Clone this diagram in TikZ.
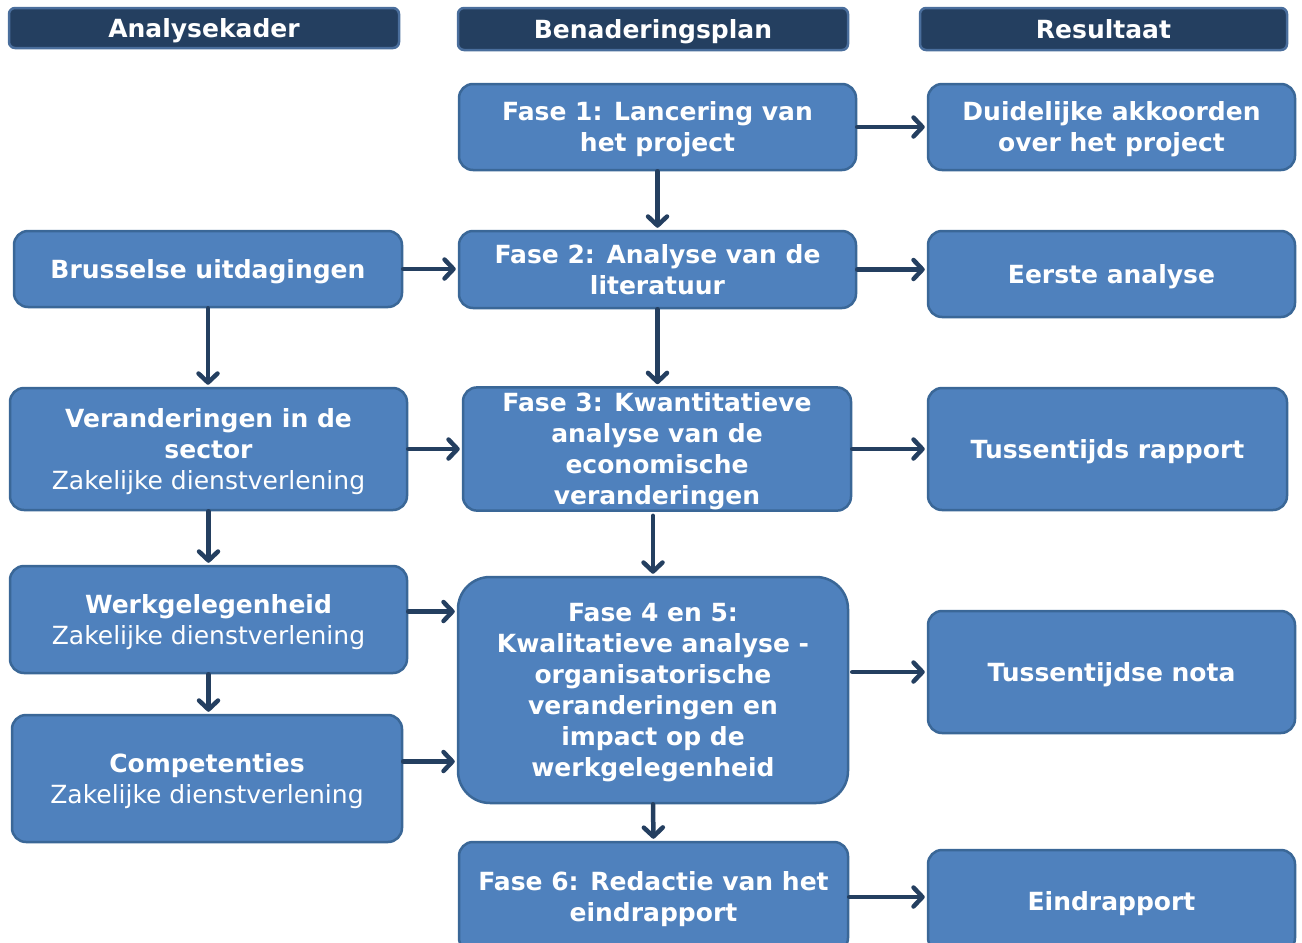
\documentclass[tikz,border=0pt]{standalone}
\usepackage{fontspec}
\setmainfont{DejaVu Sans}
\usetikzlibrary{arrows.meta,calc}
\definecolor{boxfill}{HTML}{4F81BD}
\definecolor{boxline}{HTML}{3A6797}
\definecolor{hdrfill}{HTML}{243F60}
\definecolor{hdrline}{HTML}{4A6E9C}
\definecolor{arr}{HTML}{243F60}
\newcommand{\mystrut}{\rule[-6pt]{0pt}{30.2pt}}
\newcommand{\sub}[1]{{\mdseries #1}}
\tikzset{
  box/.style={draw=boxline, fill=boxfill, line width=2.5pt, rounded corners=14pt,
    text=white, font=\fontsize{25}{31}\selectfont\bfseries, align=center, inner sep=0pt},
  hdr/.style={draw=hdrline, fill=hdrfill, line width=2.5pt, rounded corners=6pt,
    text=white, font=\fontsize{25}{31}\selectfont\bfseries, align=center, inner sep=0pt},
  conn/.style={draw=arr, line width=4.5pt, line cap=round, line join=round,
    -{Straight Barb[length=9pt,width=19pt,line cap=round,line join=round]}, shorten >=2pt},
}
\begin{document}
\begin{tikzpicture}[x=1pt,y=-1pt]
\clip (0,0) rectangle (1302,943);
% headers
\node[hdr, minimum width=390pt, minimum height=40pt] (h1) at (204,28) {\mystrut Analysekader\mystrut};
\node[hdr, minimum width=390pt, minimum height=42pt] (h2) at (653,29) {\mystrut Benaderingsplan\mystrut};
\node[hdr, minimum width=367pt, minimum height=42pt] (h3) at (1103.5,29) {\mystrut Resultaat\mystrut};
% middle column
\node[box, minimum width=397pt, minimum height=86pt] (f1) at (657.5,127) {\mystrut Fase 1: Lancering van\\het project\mystrut};
\node[box, minimum width=397pt, minimum height=77pt] (f2) at (657.5,269.5) {\mystrut Fase 2: Analyse van de\\literatuur\mystrut};
\node[box, minimum width=388pt, minimum height=122pt] (f3) at (657,449) {\mystrut Fase 3: Kwantitatieve\\analyse van de\\economische\\veranderingen\mystrut};
\node[box, rounded corners=32pt, minimum width=390pt, minimum height=226pt] (f45) at (653,690) {\mystrut Fase 4 en 5:\\Kwalitatieve analyse -\\organisatorische\\veranderingen en\\impact op de\\werkgelegenheid\mystrut};
\node[box, minimum width=389pt, minimum height=110pt] (f6) at (653.5,897) {\mystrut Fase 6: Redactie van het\\eindrapport\mystrut};
% left column
\node[box, minimum width=388pt, minimum height=76pt] (b) at (208,269) {\mystrut Brusselse uitdagingen\mystrut};
\node[box, minimum width=397pt, minimum height=122pt] (v) at (208.5,449) {\mystrut Veranderingen in de\\sector\\\sub{Zakelijke dienstverlening}\mystrut};
\node[box, minimum width=397pt, minimum height=107pt] (w) at (208.5,619.5) {\mystrut Werkgelegenheid\\\sub{Zakelijke dienstverlening}\mystrut};
\node[box, minimum width=390pt, minimum height=127pt] (c) at (207,778.5) {\mystrut Competenties\\\sub{Zakelijke dienstverlening}\mystrut};
% right column
\node[box, minimum width=367pt, minimum height=86pt] (d) at (1111.5,127) {\mystrut Duidelijke akkoorden\\over het project\mystrut};
\node[box, minimum width=367pt, minimum height=86pt] (e) at (1111.5,274) {\mystrut Eerste analyse\mystrut};
\node[box, minimum width=359pt, minimum height=122pt] (t) at (1107.5,449) {\mystrut Tussentijds rapport\mystrut};
\node[box, minimum width=367pt, minimum height=122pt] (n) at (1111.5,672) {\mystrut Tussentijdse nota\mystrut};
\node[box, minimum width=367pt, minimum height=102pt] (ei) at (1111.5,901) {\mystrut Eindrapport\mystrut};
% connectors
\draw[conn] (f1.east) -- (d.west);
\draw[conn] (f1.south) -- (f2.north);
\draw[conn] (b.east) -- (b.east -| f2.west);
\draw[conn] (f2.east) -- (f2.east -| e.west);
\draw[conn] (f2.south) -- (f3.north -| f2.south);
\draw[conn] (b.south) -- (v.north -| b.south);
\draw[conn] (v.east) -- (f3.west);
\draw[conn] (f3.east) -- (f3.east -| t.west);
\draw[conn] (v.south) -- (w.north -| v.south);
\draw[conn] ([yshift=-4pt]f45.north |- f3.south) -- (f45.north);
\draw[conn] ([yshift=8pt]w.east) -- ([yshift=8pt]w.east -| f45.west);
\draw[conn] (w.south) -- (c.north -| w.south);
\draw[conn] ([yshift=17pt]c.east) -- ([yshift=17pt]c.east -| f45.west);
\draw[conn] ([xshift=3pt]f45.east |- n.west) -- (n.west);
\draw[conn] (f45.south) -- (f6.north);
\draw[conn] (f6.east) -- (f6.east -| ei.west);
\end{tikzpicture}
\end{document}
